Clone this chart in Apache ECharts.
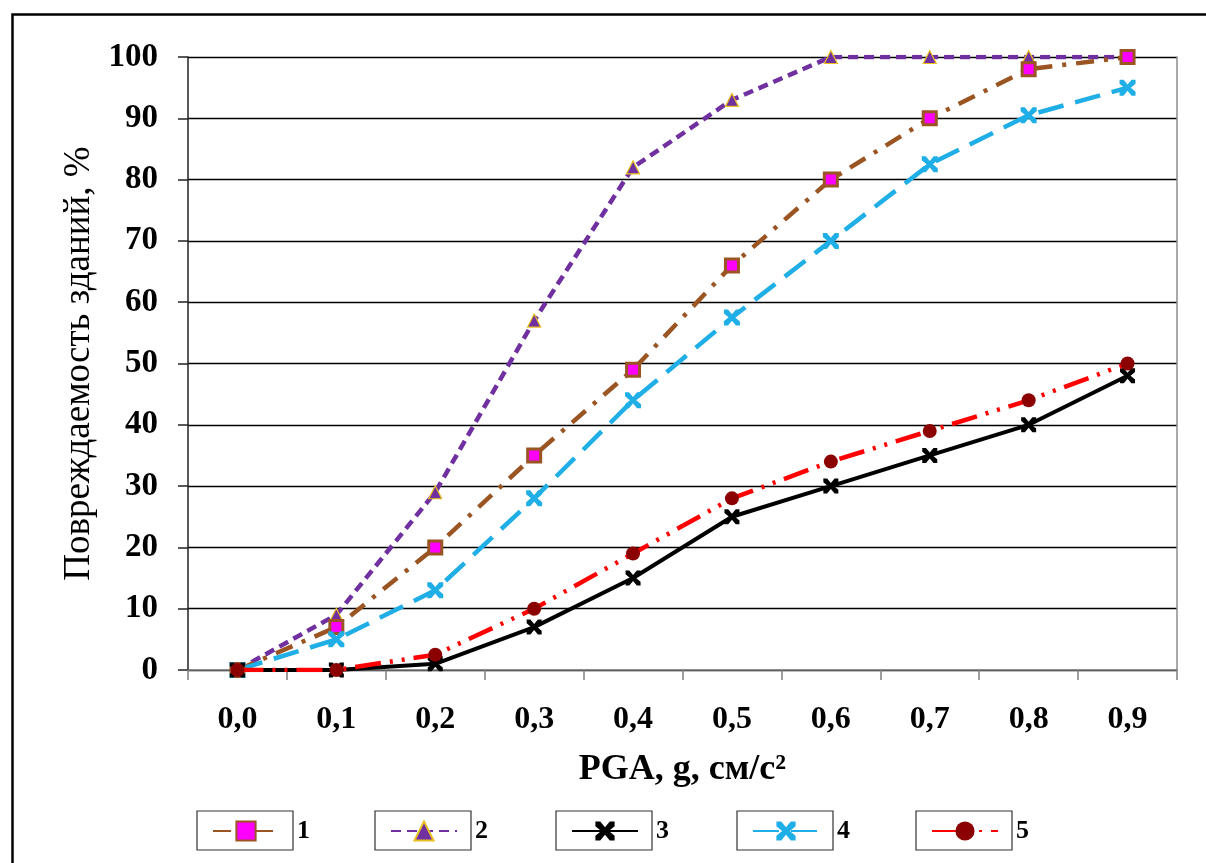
<!DOCTYPE html>
<html>
<head>
<meta charset="utf-8">
<script src="https://cdn.jsdelivr.net/npm/echarts@6/dist/echarts.min.js"></script>
<style>
html,body{margin:0;padding:0;background:#fff;}
#c{width:1206px;height:863px;}
</style>
</head>
<body>
<div id="c"></div>
<script>
const categories = ['0,0','0,1','0,2','0,3','0,4','0,5','0,6','0,7','0,8','0,9'];
const s1 = [0, 7, 20, 35, 49, 66, 80, 90, 98, 100];
const s2 = [0, 9, 29, 57, 82, 93, 100, 100, 100, 100];
const s3 = [0, 0, 1, 7, 15, 25, 30, 35, 40, 48];
const s4 = [0, 5, 13, 28, 44, 57.5, 70, 82.5, 90.5, 95];
const s5 = [0, 0, 2.5, 10, 19, 28, 34, 39, 44, 50];
const seriesNames = ['1','2','3','4','5'];
const yTicks = [0,10,20,30,40,50,60,70,80,90,100];

const X = 'path://M0,0 L2.5,0 L5,3 L7.5,0 L10,0 L10,2.5 L7,5 L10,7.5 L10,10 L7.5,10 L5,7 L2.5,10 L0,10 L0,7.5 L3,5 L0,2.5 Z';
const serif = '"Liberation Serif", "DejaVu Serif", serif';

const chart = echarts.init(document.getElementById('c'), null, {renderer:'canvas'});

const boxLefts = [197, 375, 556, 737, 916];
const boxTop = 811, boxW = 96, boxH = 39;

const legends = seriesNames.map((n,i)=>({
  data:[n],
  left: boxLefts[i] + 15,
  top: boxTop + 7,
  itemWidth: 66,
  itemHeight: 24,
  padding: 0,
  selectedMode: false,
  textStyle:{fontFamily:serif,fontWeight:'bold',fontSize:26,color:'#000',padding:[0,0,0,13]}
}));

const graphics = [
  {type:'rect', left:10, top:12, shape:{x:0,y:0,width:1300,height:1000}, style:{fill:'none',stroke:'#000',lineWidth:2.5}, z:-10, silent:true}
].concat(boxLefts.map(l=>({
  type:'rect', shape:{x:l,y:boxTop,width:boxW,height:boxH}, style:{fill:'#fff',stroke:'#333',lineWidth:1.2}, z:-5, silent:true
})));

const option = {
  animation:false,
  backgroundColor:'#fff',
  graphic: graphics,
  legend: legends,
  grid:{left:188,right:29,top:57,bottom:193,containLabel:false},
  xAxis:{
    type:'category',
    data:categories,
    boundaryGap:true,
    name:'PGA, g, см/с²',
    nameLocation:'middle',
    nameGap:82,
    nameTextStyle:{fontFamily:serif,fontWeight:'bold',fontSize:36,color:'#000'},
    axisLine:{lineStyle:{color:'#7f7f7f',width:1.5}},
    axisTick:{show:true,length:10,lineStyle:{color:'#7f7f7f',width:1.5}},
    axisLabel:{fontFamily:serif,fontWeight:'bold',fontSize:32,color:'#000',margin:34},
    splitLine:{show:false}
  },
  yAxis:[{
    type:'value',
    min:0,max:100,interval:10,
    name:'Повреждаемость зданий, %',
    nameLocation:'middle',
    nameGap:90,
    nameTextStyle:{fontFamily:serif,fontSize:37,color:'#000'},
    axisLine:{show:true,lineStyle:{color:'#222',width:1.5}},
    axisTick:{show:true,length:10,lineStyle:{color:'#222',width:1.5}},
    axisLabel:{fontFamily:serif,fontWeight:'bold',fontSize:33,color:'#000',margin:30},
    splitLine:{show:true,lineStyle:{color:'#000',width:1.3}}
  },{
    type:'value',
    min:0,max:100,interval:10,
    position:'right',
    axisLine:{show:true,lineStyle:{color:'#8c8c8c',width:1.5}},
    axisTick:{show:false},
    axisLabel:{show:false},
    splitLine:{show:false}
  }],
  series:[
    {
      name:'1', type:'line', data:s1, z:3,
      lineStyle:{color:'#9B5523',width:4.5,type:[18,10,4,10]},
      itemStyle:{color:'#FF00FF',borderColor:'#9B5523',borderWidth:3},
      symbol:'rect', symbolSize:13, showAllSymbol:true
    },
    {
      name:'2', type:'line', data:s2, z:2,
      lineStyle:{color:'#7030A0',width:4.5,type:[10,6]},
      itemStyle:{color:'#7030A0',borderColor:'#E8C020',borderWidth:1.2},
      symbol:'triangle', symbolSize:13, showAllSymbol:true
    },
    {
      name:'3', type:'line', data:s3, z:4,
      lineStyle:{color:'#000',width:4,type:'solid'},
      itemStyle:{color:'#000',borderWidth:0},
      symbol:X, symbolSize:15, showAllSymbol:true
    },
    {
      name:'4', type:'line', data:s4, z:3,
      lineStyle:{color:'#1FAEE6',width:4.5,type:[26,12]},
      itemStyle:{color:'#1FAEE6',borderWidth:0},
      symbol:X, symbolSize:16, showAllSymbol:true
    },
    {
      name:'5', type:'line', data:s5, z:5,
      lineStyle:{color:'#FF0000',width:4.5,type:[26,9,3,9,3,9]},
      itemStyle:{color:'#8B0000',borderWidth:0},
      symbol:'circle', symbolSize:14, showAllSymbol:true
    }
  ]
};
chart.setOption(option);
</script>
</body>
</html>
